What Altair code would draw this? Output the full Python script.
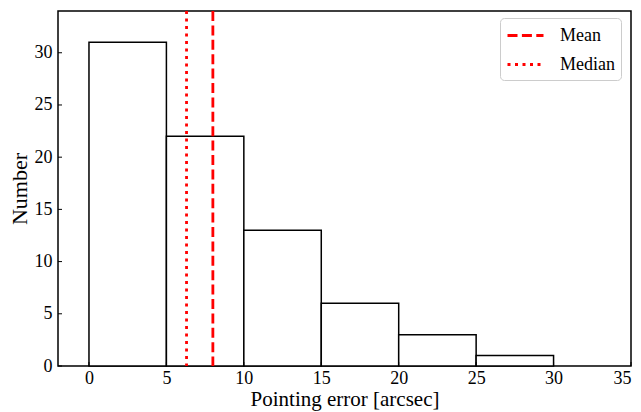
import altair as alt
import pandas as pd

bin_start = [0, 5, 10, 15, 20, 25]
bin_end = [5, 10, 15, 20, 25, 30]
counts = [31, 22, 13, 6, 3, 1]
stat_names = ["Mean", "Median"]
stat_values = [8.0, 6.3]
x_ticks = [0, 5, 10, 15, 20, 25, 30, 35]
y_ticks = [0, 5, 10, 15, 20, 25, 30]

W, H = 573, 355
FONT = "Liberation Serif"

bars_df = pd.DataFrame({"start": bin_start, "end": bin_end, "count": counts})
stats_df = pd.DataFrame({"stat": stat_names, "value": stat_values})
xt_df = pd.DataFrame({"t": x_ticks})
yt_df = pd.DataFrame({"t": y_ticks})

xscale = alt.Scale(domain=[-2, 35], nice=False, zero=False)
yscale = alt.Scale(domain=[0, 34], nice=False)

xaxis = alt.Axis(values=x_ticks, title="Pointing error [arcsec]", grid=False,
                 domain=False, ticks=False, labelPadding=3, labelFontSize=18,
                 titleFontSize=21, titleFontWeight="normal",
                 titleBaseline="alphabetic", titleY=39,
                 labelFont=FONT, titleFont=FONT, labelColor="black", titleColor="black")
yaxis = alt.Axis(values=y_ticks, title="Number", grid=False,
                 domain=False, ticks=False, labelPadding=6, labelFontSize=18,
                 titleFontSize=22, titleFontWeight="normal",
                 titleBaseline="alphabetic", titleX=-32,
                 labelFont=FONT, titleFont=FONT, labelColor="black", titleColor="black")

bars = alt.Chart(bars_df).mark_bar(fill="white", stroke="black", strokeWidth=1.5).encode(
    x=alt.X("start:Q", scale=xscale, axis=xaxis),
    x2="end:Q",
    y=alt.Y("count:Q", scale=yscale, axis=yaxis),
    y2=alt.datum(0),
)

rules = alt.Chart(stats_df).mark_rule(color="red", strokeWidth=2.8).encode(
    x=alt.X("value:Q", scale=xscale),
    strokeDash=alt.StrokeDash(
        "stat:N",
        scale=alt.Scale(domain=stat_names, range=[[10, 4.4], [3, 4.5]]),
        legend=alt.Legend(title=None, orient="none", legendX=442, legendY=7,
                          symbolType="M-1,0H2.6", symbolSize=400, symbolStrokeWidth=2.8,
                          symbolStrokeColor="red", symbolFillColor="transparent",
                          labelFont=FONT, labelFontSize=18,
                          labelColor="black", strokeColor="#cccccc", cornerRadius=4,
                          padding=6, rowPadding=8, labelOffset=31, fillColor="white"),
    ),
)

xticks = alt.Chart(xt_df).mark_rule(color="black", strokeWidth=1).encode(
    x=alt.X("t:Q", scale=xscale), y=alt.value(H), y2=alt.value(H - 4)
)
yticks = alt.Chart(yt_df).mark_rule(color="black", strokeWidth=1).encode(
    y=alt.Y("t:Q", scale=yscale), x=alt.value(0), x2=alt.value(4)
)

chart = alt.layer(bars, rules, xticks, yticks).properties(
    width=W, height=H,
    background="white",
    autosize=alt.AutoSizeParams(type="none"),
    padding={"left": 50, "top": 3, "right": 2, "bottom": 45},
).configure_view(stroke="black", strokeWidth=1.5)

chart.save("out.html", embed_options={"renderer": "svg", "actions": False})
